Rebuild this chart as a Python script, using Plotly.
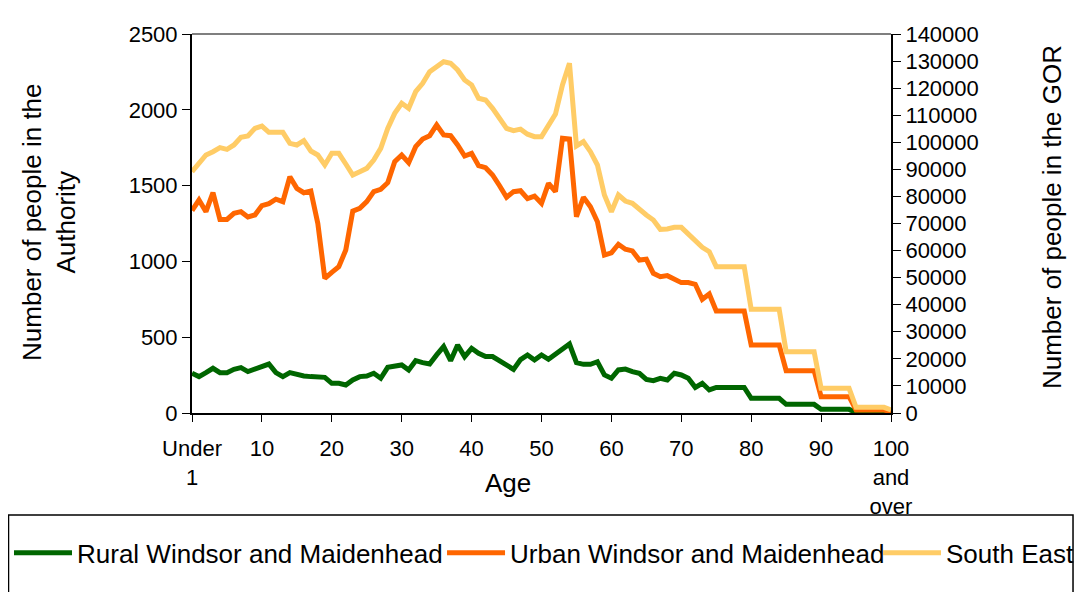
import plotly.graph_objects as go

# Categories (single years of age)
ages = ["Under 1"] + [str(i) for i in range(1, 100)] + ["100 and over"]
tick_cats = ["Under 1", "10", "20", "30", "40", "50", "60", "70", "80", "90", "100 and over"]
tick_labels = ["Under<br>1", "10", "20", "30", "40", "50", "60", "70", "80", "90", "100<br>and<br>over"]

rural = [262, 240, 266, 295, 266, 266, 288, 299, 273, 288,
         301, 323, 266, 240, 266, 251, 244, 240, 240, 235,
         196, 196, 185, 218, 240, 244, 262, 229, 301, 306,
         317, 284, 345, 332, 323, 383, 438, 345, 449, 372,
         427, 394, 372, 372, 345, 317, 288, 352, 383, 350,
         383, 354, 387, 420, 455, 332, 321, 321, 338, 251,
         229, 284, 290, 273, 262, 222, 213, 229, 218, 262,
         251, 229, 169, 196, 152, 169, 169, 169, 169, 169,
         97, 97, 97, 97, 97, 57, 57, 57, 57, 57,
         24, 24, 24, 24, 24, 3, 3, 3, 3, 3,
         1]

urban = [1335, 1405, 1328, 1453, 1277, 1277, 1317, 1328, 1293, 1306,
         1368, 1381, 1410, 1394, 1559, 1482, 1453, 1464, 1251, 888,
         928, 965, 1075, 1332, 1350, 1394, 1460, 1475, 1519, 1658,
         1702, 1651, 1757, 1807, 1829, 1900, 1834, 1829, 1768, 1695,
         1713, 1631, 1618, 1570, 1499, 1423, 1460, 1466, 1414, 1431,
         1383, 1515, 1460, 1812, 1807, 1295, 1423, 1361, 1262, 1042,
         1057, 1113, 1080, 1069, 1009, 1014, 921, 899, 906, 882,
         860, 860, 849, 750, 785, 673, 673, 673, 673, 673,
         449, 449, 449, 449, 449, 279, 279, 279, 279, 279,
         108, 108, 108, 108, 108, 20, 20, 20, 20, 20,
         9]

south_east = [89130, 92230, 95300, 96530, 98010, 97400, 99000, 101840, 102320, 105160,
              106010, 103690, 103540, 103690, 99620, 99000, 100590, 96780, 95300, 91610,
              95920, 95920, 91980, 87910, 89130, 90360, 93460, 97770, 105160, 110700,
              114400, 112550, 118690, 121770, 126070, 128180, 129760, 129180, 126700, 123000,
              121160, 116250, 115620, 112550, 108860, 105160, 104280, 104850, 103000, 102070,
              102070, 106380, 110450, 121160, 129180, 98630, 100220, 96530, 91610, 80530,
              74360, 80530, 78310, 77460, 74990, 73140, 71290, 67850, 67970, 68590,
              68590, 66120, 63900, 61200, 59580, 54050, 54050, 54050, 54050, 54050,
              38300, 38300, 38300, 38300, 38300, 22650, 22650, 22650, 22650, 22650,
              9110, 9110, 9110, 9110, 9110, 2090, 2090, 2090, 2090, 2090,
              1100]

FONT = "Liberation Sans, Arial, sans-serif"
LW = 5

fig = go.Figure()
fig.add_trace(go.Scatter(x=ages, y=rural, name="Rural Windsor and Maidenhead",
                         mode="lines", line=dict(color="#006600", width=LW), yaxis="y",
                         legend="legend"))
fig.add_trace(go.Scatter(x=ages, y=urban, name="Urban Windsor and Maidenhead",
                         mode="lines", line=dict(color="#FF6600", width=LW), yaxis="y",
                         legend="legend2"))
fig.add_trace(go.Scatter(x=ages, y=south_east, name="South East",
                         mode="lines", line=dict(color="#FFCC66", width=LW), yaxis="y2",
                         legend="legend3"))

leg_common = dict(orientation="h", xanchor="left", y=-0.369, yanchor="middle",
                  font=dict(size=26), itemwidth=58, bgcolor="rgba(0,0,0,0)")

# page body has an 8px margin, so the figure is shrunk and everything shifts by -8
fig.update_layout(
    width=1074, height=584,
    margin=dict(l=184, r=191, t=26, b=179, autoexpand=False),
    paper_bgcolor="white", plot_bgcolor="white",
    font=dict(family=FONT, size=22, color="black"),
    showlegend=True,
    legend=dict(x=-0.2618, **leg_common),
    legend2=dict(x=0.3577, **leg_common),
    legend3=dict(x=0.9814, **leg_common),
    xaxis=dict(type="category", range=[0, 100], tickmode="array",
               tickvals=tick_cats, ticktext=tick_labels,
               showline=True, linecolor="black", linewidth=2,
               ticks="outside", ticklen=7, tickcolor="black", tickwidth=1,
               showgrid=False, zeroline=False, tickangle=0, ticklabelstandoff=8,
               tickfont=dict(size=22)),
    yaxis=dict(range=[0, 2500], dtick=500, showline=True, linecolor="black", linewidth=2,
               ticks="outside", ticklen=8, tickcolor="black", showgrid=False, zeroline=False,
               tickfont=dict(size=22)),
    yaxis2=dict(range=[0, 140000], dtick=10000, overlaying="y", side="right", anchor="x",
                showline=True, linecolor="black", linewidth=2, tickformat="d",
                ticks="outside", ticklen=8, tickcolor="black", showgrid=False, zeroline=False,
                tickfont=dict(size=22)),
    yaxis3=dict(range=[0, 140000], dtick=10000, overlaying="y", side="right", anchor="x",
                showline=False, ticks="inside", ticklen=8, tickcolor="black",
                showticklabels=False, showgrid=False, zeroline=False),
)

# plot-area top border
fig.add_shape(type="line", xref="paper", yref="paper", x0=0, x1=1, y0=1, y1=1,
              line=dict(color="#555555", width=1.5))
# legend box
fig.add_shape(type="rect", xref="paper", yref="paper",
              x0=-0.2625, x1=1.2604, y0=-0.2691, y1=-0.54,
              line=dict(color="black", width=1.5))

fig.add_annotation(text="Age", xref="paper", yref="paper", x=0.452, y=-0.1847,
                   showarrow=False, font=dict(size=26), xanchor="center", yanchor="middle")
fig.add_annotation(text="Number of people in the<br>Authority", xref="paper", yref="paper",
                   x=-0.2046, y=0.504, textangle=-90, showarrow=False,
                   font=dict(size=26), xanchor="center", yanchor="middle")
fig.add_annotation(text="Number of people in the GOR", xref="paper", yref="paper",
                   x=1.2303, y=0.517, textangle=-90, showarrow=False,
                   font=dict(size=26), xanchor="center", yanchor="middle")

fig.write_html("out.html")
